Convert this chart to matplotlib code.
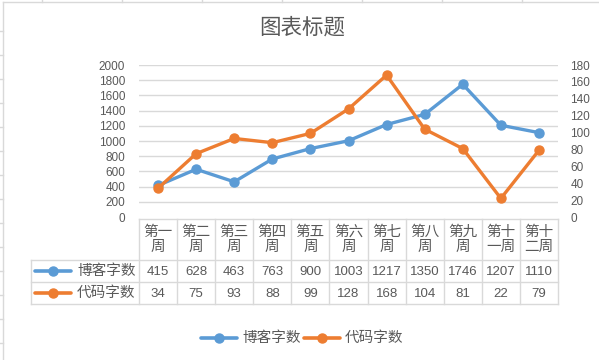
## import libraries for plotting
import matplotlib
matplotlib.use("Agg")
import matplotlib.pyplot as plt
from matplotlib.lines import Line2D

plt.rcParams['font.family'] = ['Noto Sans CJK SC', 'DejaVu Sans']

## chart data
weeks = ["第一\n周", "第二\n周", "第三\n周", "第四\n周", "第五\n周", "第六\n周",
         "第七\n周", "第八\n周", "第九\n周", "第十\n一周", "第十\n二周"]
blog_words = [415, 628, 463, 763, 900, 1003, 1217, 1350, 1746, 1207, 1110]
code_words = [34, 75, 93, 88, 99, 128, 168, 104, 81, 22, 79]
series_names = ["博客字数", "代码字数"]
left_ticks = list(range(0, 2001, 200))
right_ticks = list(range(0, 181, 20))

## styles
blue = "#5B9BD5"
orange = "#ED7D31"
txt = "#595959"
grid = "#D9D9D9"
num_font = ['Liberation Sans', 'DejaVu Sans']
W, H = 599, 360

fig = plt.figure(figsize=(W / 100, H / 100), dpi=100)

## main plot area in pixel layout
x0, x1, y_top, y_bot = 139, 558, 65, 217
ax = fig.add_axes([x0 / W, 1 - y_bot / H, (x1 - x0) / W, (y_bot - y_top) / H])
n = len(blog_words)
xs = list(range(n))
ax.set_xlim(-0.5, n - 0.5)
ax.set_ylim(0, 2000)
ax.set_yticks(left_ticks)
ax.set_yticklabels([str(t) for t in left_ticks], fontsize=8.5, color=txt, family=num_font)
for t in left_ticks[1:]:
    ax.axhline(t, color=grid, lw=1, zorder=0)
ax.set_xticks([])
for s in ax.spines.values():
    s.set_visible(False)
ax.tick_params(axis='y', length=0, pad=10)

ax2 = ax.twinx()
ax2.set_ylim(0, 180)
ax2.set_yticks(right_ticks)
ax2.set_yticklabels([str(t) for t in right_ticks], fontsize=8.5, color=txt, family=num_font)
ax2.tick_params(axis='y', length=0, pad=9)
for s in ax2.spines.values():
    s.set_visible(False)

ax.plot(xs, blog_words, color=blue, lw=2.4, marker='o', ms=6.5, zorder=3)
ax2.plot(xs, code_words, color=orange, lw=2.4, marker='o', ms=6.5, zorder=3)

## background overlay: spreadsheet cell borders behind the chart
ov = fig.add_axes([0, 0, 1, 1], zorder=-1)
ov.set_xlim(0, W)
ov.set_ylim(H, 0)
ov.axis('off')
ov.plot([3, W], [2, 2], color=grid, lw=1)
ov.plot([3, 3], [2, H], color=grid, lw=1)
for yy in range(31, H, 24):
    ov.plot([0, 3], [yy, yy], color=grid, lw=1)
for xx in range(42, W, 80):
    ov.plot([xx, xx], [0, 2], color=grid, lw=1)

## front overlay: title, data table and legend
ov2 = fig.add_axes([0, 0, 1, 1], zorder=5)
ov2.set_xlim(0, W)
ov2.set_ylim(H, 0)
ov2.axis('off')
ov2.patch.set_alpha(0)

ov2.text(302, 28, "图表标题", fontsize=15.5, color=txt, ha='center', va='center')

## data table
cw = (x1 - x0) / n
h0, h1, r1, r2 = 219, 260, 282, 304
lab_x = 31
ov2.plot([x0, x1], [h0, h0], color=grid, lw=1)
for yy in [h1, r1, r2]:
    ov2.plot([lab_x, x1], [yy, yy], color=grid, lw=1)
ov2.plot([lab_x, lab_x], [h1, r2], color=grid, lw=1)
for i in range(n + 1):
    ov2.plot([x0 + i * cw] * 2, [h0, r2], color=grid, lw=1)
for i, w in enumerate(weeks):
    cx = x0 + (i + 0.5) * cw
    ov2.text(cx, (h0 + h1) / 2, w, fontsize=10.5, color=txt,
             ha='center', va='center', linespacing=1.15)
    ov2.text(cx, (h1 + r1) / 2 + 1, str(blog_words[i]), fontsize=9.5,
             color=txt, ha='center', va='center', family=num_font)
    ov2.text(cx, (r1 + r2) / 2 + 1, str(code_words[i]), fontsize=9.5,
             color=txt, ha='center', va='center', family=num_font)
for (ya, yb), col, name in zip([(h1, r1), (r1, r2)], [blue, orange], series_names):
    ym = (ya + yb) / 2
    ov2.add_line(Line2D([35, 71], [ym, ym], color=col, lw=2.6, solid_capstyle='round'))
    ov2.plot(53, ym, 'o', color=col, ms=6.5)
    ov2.text(77, ym, name, fontsize=10.5, color=txt, ha='left', va='center')

## bottom legend
for lx, col, name in zip([201, 304], [blue, orange], series_names):
    ov2.add_line(Line2D([lx, lx + 36], [338, 338], color=col, lw=2.6, solid_capstyle='round'))
    ov2.plot(lx + 18, 338, 'o', color=col, ms=6.5)
    ov2.text(lx + 41, 338, name, fontsize=10.5, color=txt, ha='left', va='center')

plt.savefig("out.png", dpi=100)
